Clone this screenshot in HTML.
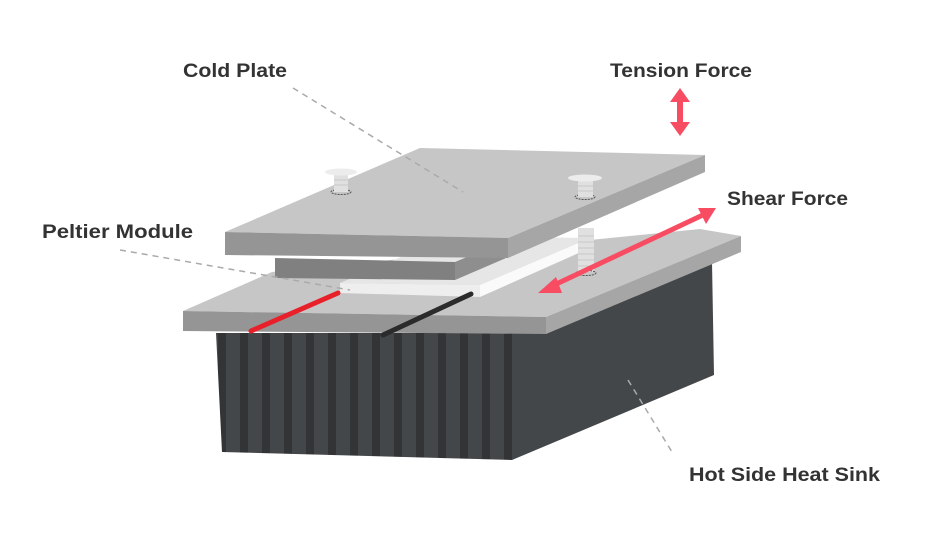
<!DOCTYPE html>
<html><head><meta charset="utf-8"><style>
html,body{margin:0;padding:0;background:#fff;width:925px;height:540px;overflow:hidden}
text{font-family:"Liberation Sans",sans-serif;font-weight:bold;font-size:19px;fill:#333}
</style></head><body>
<svg width="925" height="540" viewBox="0 0 925 540" xmlns="http://www.w3.org/2000/svg">
<defs>
<pattern id="fins" x="218" y="0" width="22" height="540" patternUnits="userSpaceOnUse">
<rect x="0" y="0" width="22" height="540" fill="#44474a"/>
<rect x="0" y="0" width="8" height="540" fill="#333436"/>
</pattern>
</defs>
<polygon points="512,333 712,262 714,375 512,460" fill="#444749"/>
<polygon points="216,333 512,333 512,460 222,452" fill="url(#fins)"/>
<polygon points="183,311 272,272 700,229 741,236 546,317" fill="#c6c6c6"/>
<polygon points="546,317 741,236 741,252 546,334" fill="#a6a6a6"/>
<polygon points="183,311 546,317 546,334 183,331" fill="#959595"/>
<polygon points="340,283 480,285 590,238 450,236" fill="#e6e6e6"/>
<polygon points="340,283 480,285 480,297 340,293" fill="#eeeeee"/>
<polygon points="480,285 590,238 590,248 480,297" fill="#fafafa"/>
<polygon points="275,258 455,262 455,280 275,278" fill="#808080"/>
<polygon points="455,262 520,235 520,252 455,280" fill="#8e8e8e"/>
<rect x="578" y="228" width="16" height="44" fill="#e0e0e0"/>
<g stroke="#c8c8c8" stroke-width="1"><line x1="578" y1="236" x2="594" y2="236"/><line x1="578" y1="242" x2="594" y2="242"/><line x1="578" y1="248" x2="594" y2="248"/><line x1="578" y1="254" x2="594" y2="254"/><line x1="578" y1="260" x2="594" y2="260"/><line x1="578" y1="266" x2="594" y2="266"/></g>
<ellipse cx="586" cy="273" rx="10" ry="2.5" fill="none" stroke="#555" stroke-dasharray="2 1"/>
<polygon points="225,232 420,148 705,155 508,238" fill="#c6c6c6"/>
<polygon points="508,238 705,155 705,172 508,258" fill="#a6a6a6"/>
<polygon points="225,232 508,238 508,258 225,255" fill="#959595"/>
<ellipse cx="341" cy="192" rx="10" ry="2.5" fill="none" stroke="#555" stroke-dasharray="2 1"/>
<rect x="334" y="173" width="14" height="19" fill="#e0e0e0"/>
<g stroke="#c8c8c8"><line x1="334" y1="180" x2="348" y2="180"/><line x1="334" y1="185" x2="348" y2="185"/></g>
<ellipse cx="341" cy="172" rx="16" ry="3.5" fill="#ececec"/>
<ellipse cx="585" cy="197" rx="10" ry="2.5" fill="none" stroke="#555" stroke-dasharray="2 1"/>
<rect x="578" y="180" width="15" height="17" fill="#e0e0e0"/>
<g stroke="#c8c8c8"><line x1="578" y1="186" x2="593" y2="186"/><line x1="578" y1="191" x2="593" y2="191"/></g>
<ellipse cx="585" cy="178" rx="17" ry="3.5" fill="#ececec"/>
<line x1="251" y1="331" x2="338" y2="293" stroke="#e8202a" stroke-width="5" stroke-linecap="round"/>
<line x1="383" y1="335" x2="471" y2="294" stroke="#2b2b2b" stroke-width="5" stroke-linecap="round"/>
<g stroke="#aaa" stroke-width="1.5" stroke-dasharray="6 5" fill="none">
<line x1="293" y1="88" x2="463" y2="192"/>
<line x1="120" y1="250" x2="350" y2="290"/>
<line x1="628" y1="380" x2="672" y2="452"/>
</g>
<g fill="#f84c63" stroke="#f84c63">
<line x1="550" y1="287" x2="705" y2="214" stroke-width="5"/>
<polygon points="538,293 556,277 562,293" stroke="none"/>
<polygon points="716,208 698,208 706,224" stroke="none"/>
</g>
<g fill="#f84c63">
<rect x="677" y="98" width="6" height="28"/>
<polygon points="680,88 670,102 690,102"/>
<polygon points="680,136 670,122 690,122"/>
</g>
<text x="183" y="77" textLength="104" lengthAdjust="spacingAndGlyphs">Cold Plate</text>
<text x="610" y="77" textLength="142" lengthAdjust="spacingAndGlyphs">Tension Force</text>
<text x="727" y="205" textLength="121" lengthAdjust="spacingAndGlyphs">Shear Force</text>
<text x="42" y="238" textLength="151" lengthAdjust="spacingAndGlyphs">Peltier Module</text>
<text x="689" y="481" textLength="191" lengthAdjust="spacingAndGlyphs">Hot Side Heat Sink</text>
</svg>
</body></html>
